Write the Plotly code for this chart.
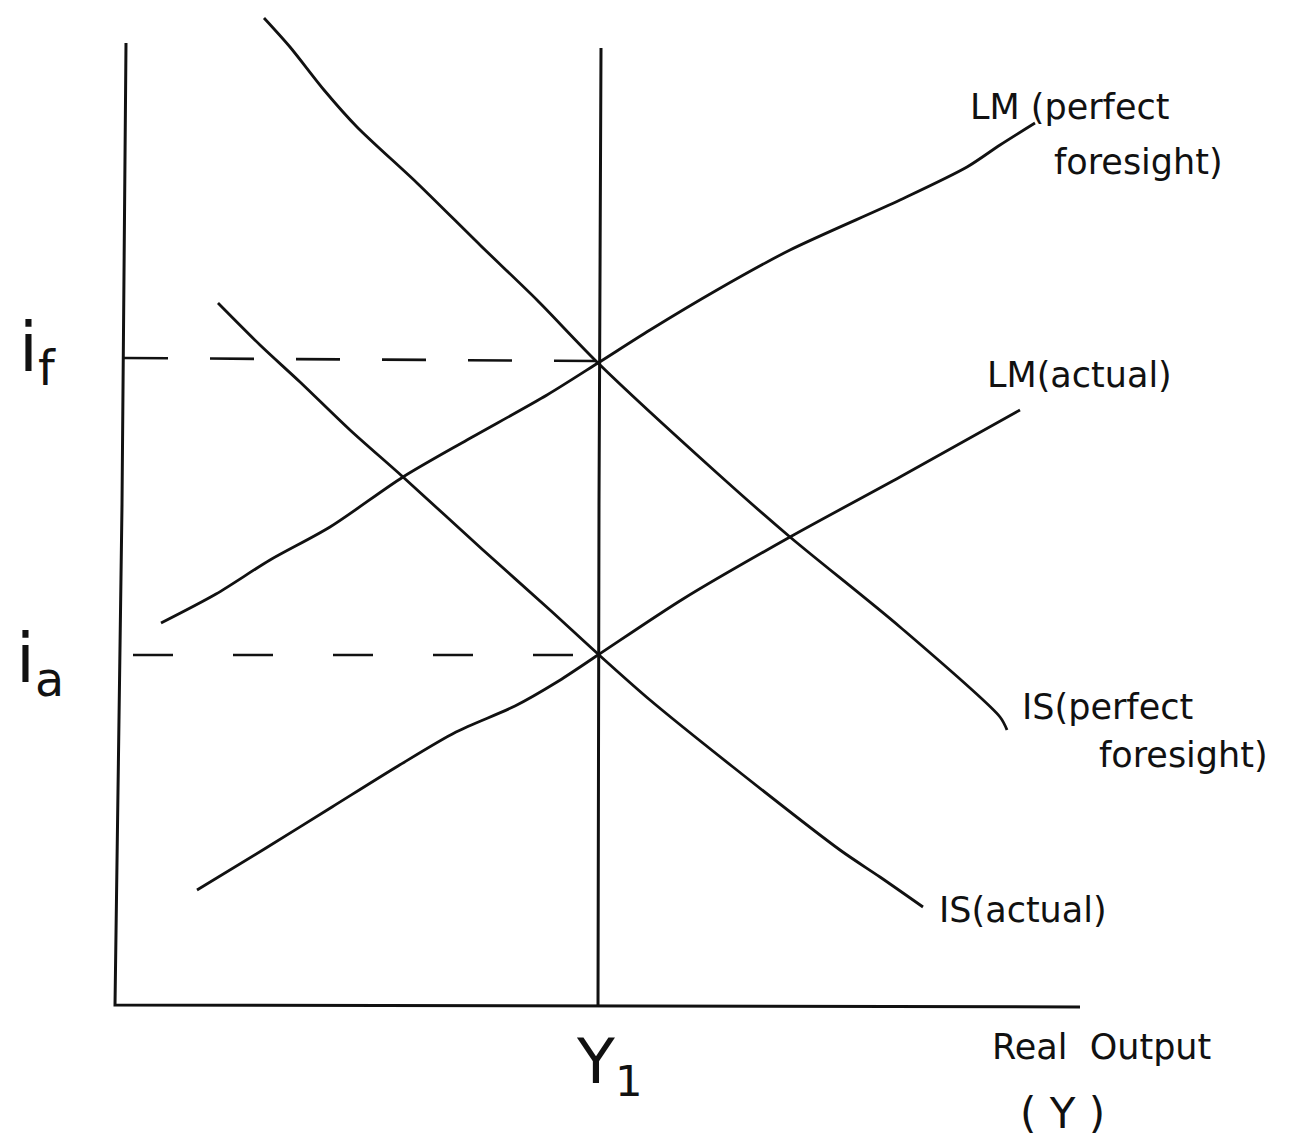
import plotly.graph_objects as go

# IS-LM sketch, origin at the corner of the drawn axes
is_pf_x = [147, 173, 207, 240, 300, 363, 420, 481, 600, 673, 783, 883, 890]
is_pf_y = [987, 958, 915, 878, 822, 760, 705, 642, 532, 468, 378, 288, 275]

lm_pf_x = [44, 99, 153, 213, 286, 350, 430, 481, 533, 600, 673, 783, 850, 883, 918]
lm_pf_y = [382, 411, 445, 478, 528, 565, 610, 642, 675, 715, 755, 805, 838, 860, 882]

is_act_x = [101, 143, 183, 233, 286, 366, 433, 481, 533, 616, 723, 763, 806]
is_act_y = [702, 660, 623, 575, 528, 455, 395, 351, 305, 238, 155, 128, 98]

lm_act_x = [80, 149, 215, 281, 339, 398, 440, 481, 566, 673, 783, 903]
lm_act_y = [115, 157, 198, 239, 273, 299, 323, 350, 406, 468, 528, 595]

y1 = 481
i_f = 645
i_a = 350

curves = [
    (is_pf_x, is_pf_y),
    (lm_pf_x, lm_pf_y),
    (is_act_x, is_act_y),
    (lm_act_x, lm_act_y),
]

fig = go.Figure()
ink = dict(color="#111111", width=2.8, shape="spline", smoothing=0.8)

for xs, ys in curves:
    fig.add_trace(go.Scatter(x=xs, y=ys, mode="lines", line=ink, hoverinfo="skip"))

# axes and the Y1 line
fig.add_trace(go.Scatter(x=[9, 5, -2, 963], y=[962, 500, 0, -2], mode="lines",
                         line=dict(color="#111111", width=3), hoverinfo="skip"))
fig.add_trace(go.Scatter(x=[y1 + 3, y1 + 1, y1], y=[957, 500, 0], mode="lines",
                         line=dict(color="#111111", width=3), hoverinfo="skip"))

# dashed guides to the interest rates
fig.add_trace(go.Scatter(x=[7, y1 - 2], y=[i_f + 2, i_f - 1], mode="lines",
                         line=dict(color="#111111", width=2.6, dash="44px,42px"), hoverinfo="skip"))
fig.add_trace(go.Scatter(x=[16, y1 - 4], y=[i_a, i_a], mode="lines",
                         line=dict(color="#111111", width=2.6, dash="40px,60px"), hoverinfo="skip"))

font = dict(family="DejaVu Sans", size=35, color="#111111")
labels = [
    (851, 898, "LM (perfect"),
    (935, 843, "foresight)"),
    (868, 630, "LM(actual)"),
    (903, 298, "IS(perfect"),
    (980, 250, "foresight)"),
    (820, 95, "IS(actual)"),
    (873, -42, "Real\u00a0 Output"),
]
for x, y, t in labels:
    fig.add_annotation(x=x, y=y, text=t, showarrow=False, xanchor="left",
                       yanchor="middle", font=font)
fig.add_annotation(x=901, y=-108, text="(\u00a0Y\u00a0)", showarrow=False, xanchor="left",
                   yanchor="middle", font=dict(family="DejaVu Sans", size=42, color="#111111"))

big = dict(family="DejaVu Sans", size=62, color="#111111")
fig.add_annotation(x=y1 - 24, y=-60, text="Y<sub>1</sub>", showarrow=False,
                   xanchor="left", yanchor="middle", font=big)
sym = dict(family="DejaVu Sans", size=68, color="#111111")
fig.add_annotation(x=-100, y=i_f + 8, text="i<sub>f</sub>", showarrow=False,
                   xanchor="left", yanchor="middle", font=sym)
fig.add_annotation(x=-103, y=i_a - 8, text="i<sub>a</sub>", showarrow=False,
                   xanchor="left", yanchor="middle", font=sym)

# page body adds an 8px offset, so the figure is 8px smaller and ranges start there
fig.update_xaxes(range=[-109, 1182], visible=False, fixedrange=True)
fig.update_yaxes(range=[-142, 997], visible=False, fixedrange=True)
fig.update_layout(width=1291, height=1139, margin=dict(l=0, r=0, t=0, b=0),
                  plot_bgcolor="white", paper_bgcolor="white", showlegend=False)

fig.write_html("out.html")
